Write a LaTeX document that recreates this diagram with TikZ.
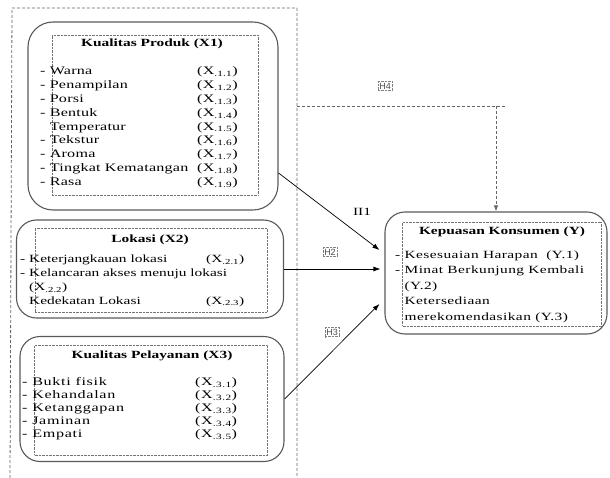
\documentclass[tikz,border=0pt]{standalone}
\usepackage{fontspec}
\setmainfont[FakeStretch=1.4]{Liberation Serif}
\newfontfamily\hfont{Liberation Sans}
\usepackage{array}
\usetikzlibrary{positioning,arrows.meta,calc}

\newcommand{\kode}[2]{(#1\textsubscript{.#2})}

\begin{document}
\begin{tikzpicture}[x=1pt, y=-1pt,
  varbox/.style={rectangle, draw=black!65, line width=1.1pt, rounded corners=20pt, inner sep=0pt},
  inbox/.style={rectangle, draw=black!55, densely dotted, inner sep=0pt},
  title/.style={font=\fontsize{11}{13}\selectfont\bfseries},
  items/.style={font=\fontsize{11}{13.8}\selectfont, anchor=north west, inner sep=0pt, align=left},
  hyp/.style={draw=black!50, densely dotted, font=\hfont\fontsize{9}{10}\selectfont, text=black!70, inner sep=1.5pt},
  arrow/.style={-{Latex[length=7pt,width=5pt]}, line width=0.7pt},
  frame/.style={black!60, dash pattern=on 3pt off 2pt, line width=0.8pt},
]
\useasboundingbox (0,0) rectangle (610,478);

% === frame round the X variables ===
\draw[frame] (10,478) -- (12,8) -- (297,8) -- (297,478);

% === Kualitas Produk (X1) ===
\node[varbox, rounded corners=25pt, minimum width=250pt, minimum height=188pt] (x1) at (153,116) {};
\node[inbox, minimum width=206pt, minimum height=160pt] (x1in) at (155,115) {};
\node[title] (x1title) at (152,44) {Kualitas Produk (X1)};
\node[items, font=\fontsize{11.5}{13.8}\selectfont\addfontfeatures{LetterSpace=2}] (x1list) at (40,65) {\begin{tabular}{@{}p{157pt}@{}l@{}}
- Warna & \kode{X}{1.1}\\
- Penampilan & \kode{X}{1.2}\\
- Porsi & \kode{X}{1.3}\\
- Bentuk & \kode{X}{1.4}\\
\hphantom{- }Temperatur & \kode{X}{1.5}\\
- Tekstur & \kode{X}{1.6}\\
- Aroma & \kode{X}{1.7}\\
- Tingkat Kematangan & \kode{X}{1.8}\\
- Rasa & \kode{X}{1.9}
\end{tabular}};

% === Lokasi (X2) ===
\node[varbox, minimum width=267pt, minimum height=98pt] (x2) at (150,269) {};
\node[inbox, minimum width=232pt, minimum height=84pt] (x2in) at (151,270) {};
\node[title] (x2title) at (150,240) {Lokasi (X2)};
\node[items] (x2list) at (20,253) {\begin{tabular}{@{}p{186pt}@{}l@{}}
- Keterjangkauan lokasi & \kode{X}{2.1}\\
\multicolumn{2}{@{}l@{}}{- Kelancaran akses menuju lokasi}\\
\hphantom{- }\kode{X}{2.2} & \\
\hphantom{- }Kedekatan Lokasi & \kode{X}{2.3}
\end{tabular}};

% === Kualitas Pelayanan (X3) ===
\node[varbox, minimum width=264pt, minimum height=125pt] (x3) at (152,399) {};
\node[inbox, minimum width=233pt, minimum height=110pt] (x3in) at (151,400) {};
\node[title] (x3title) at (152,356) {Kualitas Pelayanan (X3)};
\node[items, font=\fontsize{11.5}{13}\selectfont\addfontfeatures{LetterSpace=6}] (x3list) at (22,376) {\begin{tabular}{@{}p{173pt}@{}l@{}}
- Bukti fisik & \kode{X}{3.1}\\
- Kehandalan & \kode{X}{3.2}\\
- Ketanggapan & \kode{X}{3.3}\\
- Jaminan & \kode{X}{3.4}\\
- Empati & \kode{X}{3.5}
\end{tabular}};

% === Kepuasan Konsumen (Y) ===
\node[varbox, minimum width=222pt, minimum height=122pt] (y) at (496,273) {};
\node[inbox, minimum width=199pt, minimum height=104pt] (yin) at (502,274) {};
\node[title] (ytitle) at (502,232) {Kepuasan Konsumen (Y)};
\node[items, font=\fontsize{11}{15.6}\selectfont\addfontfeatures{LetterSpace=4}] (ylist) at (395,247) {\begin{tabular}{@{}l@{}}
- Kesesuaian Harapan~~(Y.1)\\
- Minat Berkunjung Kembali\\
\hphantom{- }(Y.2)\\
\hphantom{- }Ketersediaan\\
\hphantom{- }merekomendasikan (Y.3)
\end{tabular}};

% === hipotesis ===
\draw[arrow] ([yshift=-57pt]x1.east) -- ([xshift=-5pt,yshift=23pt]y.west);
\draw[arrow] (x2.east) -- ([xshift=-4pt]x2.east -| y.west);
\draw[arrow] (x3.east) -- ([xshift=-5pt,yshift=-31pt]y.west);

\coordinate (h4start) at (297,106);
\draw[frame] (h4start) -- ([xshift=10pt]h4start -| y.north);
\draw[frame, -{Latex[length=6pt,width=4.5pt]}] (h4start -| y.north) -- (y.north);

\node[font=\fontsize{11}{13}\selectfont] (h1) at (362,212) {II1};
\node[hyp] (h2) at (330,252) {H2};
\node[hyp] (h3) at (332,332) {H3};
\node[hyp] (h4) at (385,86) {H4};

\end{tikzpicture}
\end{document}
